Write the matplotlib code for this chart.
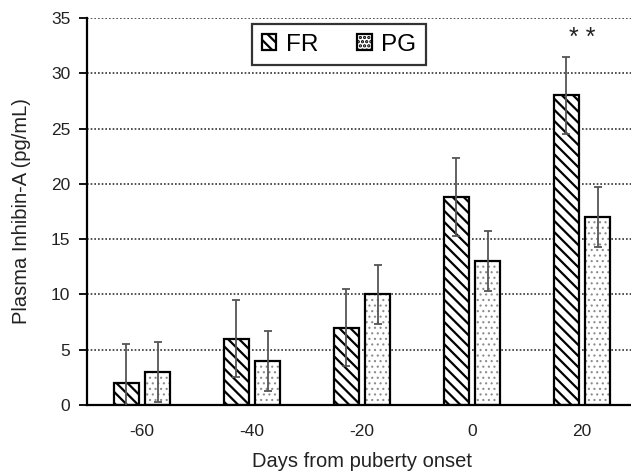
import matplotlib
matplotlib.use("Agg")
import matplotlib.pyplot as plt
import numpy as np
from matplotlib.patches import Patch

plt.rcParams['font.family'] = ['Liberation Sans', 'DejaVu Sans']
plt.rcParams['hatch.linewidth'] = 1.6

categories = ['-60', '-40', '-20', '0', '20']
fr_values = [2.0, 6.0, 7.0, 18.8, 28.0]
fr_errors = [3.5, 3.5, 3.5, 3.5, 3.5]
pg_values = [3.0, 4.0, 10.0, 13.0, 17.0]
pg_errors = [2.7, 2.7, 2.7, 2.7, 2.7]
yticks = [0, 5, 10, 15, 20, 25, 30, 35]

W, H = 631, 473
fig = plt.figure(figsize=(W / 100, H / 100), dpi=100)
ax = fig.add_axes([87 / W, (H - 405) / H, (637 - 87) / W, (405 - 18) / H])

x = np.arange(len(categories))
bw = 0.236
off = 0.141

# gridlines
for yv in yticks[1:]:
    ax.axhline(yv, color='#333333', linestyle=(0, (1, 1.2)), linewidth=1.2, zorder=0)

# FR bars
ax.bar(x - off, fr_values, bw, color='white', edgecolor='black', hatch='\\\\\\', linewidth=0, zorder=2)
ax.bar(x - off, fr_values, bw, fill=False, edgecolor='black', linewidth=1.6, zorder=3)
# PG bars
with plt.rc_context({'hatch.linewidth': 0.8}):
    ax.bar(x + off, pg_values, bw, color='white', edgecolor='#8c8c8c', hatch='...', linewidth=0, zorder=2)
ax.bar(x + off, pg_values, bw, fill=False, edgecolor='black', linewidth=1.6, zorder=3)

ax.errorbar(x - off, fr_values, yerr=fr_errors, fmt='none', ecolor='#555555', elinewidth=1.3,
            capsize=3, capthick=1.3, zorder=4)
ax.errorbar(x + off, pg_values, yerr=pg_errors, fmt='none', ecolor='#555555', elinewidth=1.3,
            capsize=3, capthick=1.3, zorder=4)

ax.text(x[4], 33.2, '* *', ha='center', va='center', fontsize=18, color='#222222')

ax.set_xlim(-0.5, 4.5)
ax.set_ylim(0, 35)
ax.set_yticks(yticks)
ax.set_xticks(x)
ax.set_xticklabels(categories)
ax.tick_params(axis='x', length=0, pad=14, labelsize=12.5)
ax.tick_params(axis='y', length=6, width=1.3, pad=6, labelsize=12.5, direction='out')
for lbl in ax.get_yticklabels() + ax.get_xticklabels():
    lbl.set_color('#222222')

ax.spines['top'].set_visible(False)
ax.spines['right'].set_visible(False)
ax.spines['left'].set_linewidth(1.6)
ax.spines['bottom'].set_linewidth(1.6)

ax.set_ylabel('Plasma Inhibin-A (pg/mL)', fontsize=14.5, color='#222222', labelpad=14)
ax.set_xlabel('Days from puberty onset', fontsize=14.5, color='#222222', labelpad=9)

handles = [Patch(facecolor='white', edgecolor='black', hatch='\\\\\\', linewidth=1.6, label='FR'),
           Patch(facecolor='white', edgecolor='black', hatch='....', linewidth=1.6, label='PG')]
leg = ax.legend(handles=handles, loc='upper center', bbox_to_anchor=((339 - 87) / 550, (405 - 24) / 387),
                ncol=2, fontsize=17.5, frameon=True, fancybox=False, edgecolor='black',
                handlelength=0.6, handleheight=0.6, handletextpad=0.4, columnspacing=1.6,
                borderpad=0.4, borderaxespad=0)
leg.get_frame().set_linewidth(1.6)
leg.set_zorder(5)

fig.savefig('out.png', dpi=100)
